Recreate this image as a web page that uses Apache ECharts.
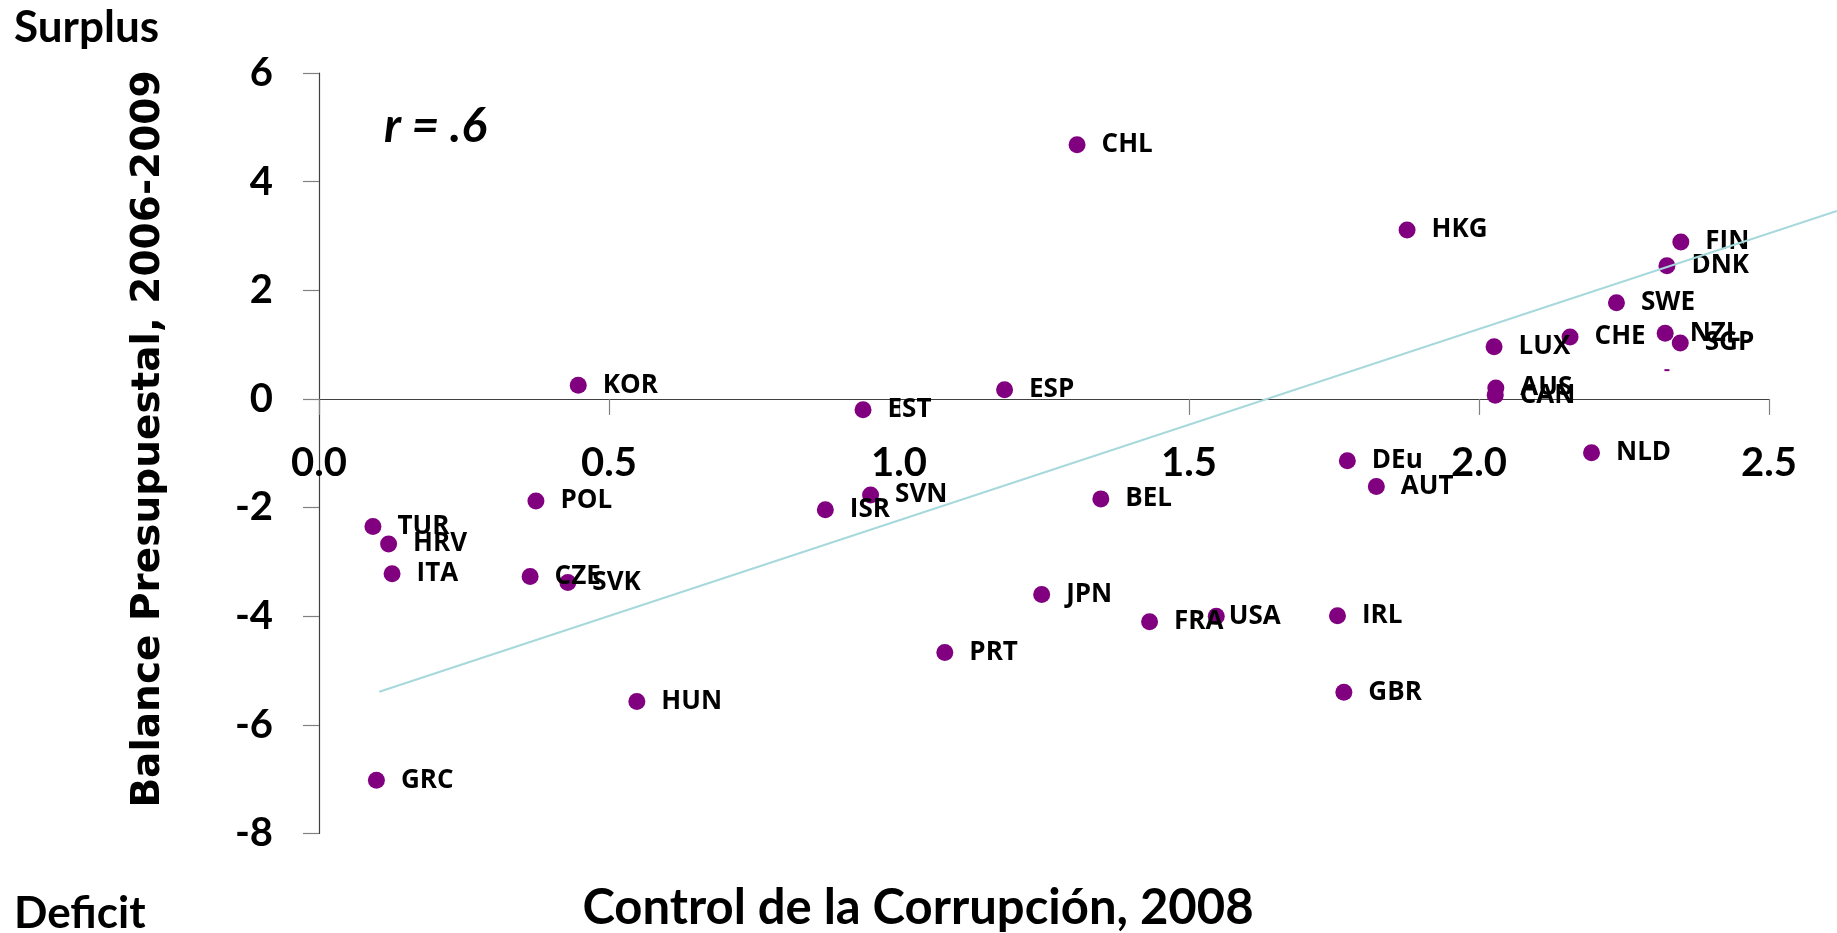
<!DOCTYPE html>
<html>
<head>
<meta charset="utf-8">
<script src="https://cdn.jsdelivr.net/npm/echarts@6/dist/echarts.min.js"></script>
<style>
  html, body { margin: 0; padding: 0; background: #fff; }
  #chart { width: 1837px; height: 933px; }
</style>
</head>
<body>
<div id="chart"></div>
<script>
// datos
const countries = ['CHL','HKG','FIN','DNK','SWE','CHE','NZL','SGP','LUX','AUS','CAN','ESP','EST','KOR',
  'NLD','DEu','AUT','SVN','ISR','BEL','POL','TUR','HRV','ITA','CZE','SVK','JPN','FRA','USA','IRL','PRT','GBR','HUN','GRC'];
const corruption = [1.307,1.876,2.348,2.324,2.237,2.157,2.321,2.347,2.026,2.029,2.028,1.182,0.938,0.447,
  2.194,1.773,1.823,0.951,0.873,1.348,0.374,0.093,0.120,0.126,0.364,0.429,1.246,1.432,1.547,1.756,1.079,1.767,0.548,0.099];
const balance = [4.68,3.11,2.89,2.45,1.77,1.14,1.21,1.03,0.96,0.20,0.07,0.17,-0.20,0.25,
  -0.99,-1.14,-1.61,-1.77,-2.04,-1.84,-1.88,-2.35,-2.67,-3.22,-3.27,-3.38,-3.60,-4.10,-4.00,-3.99,-4.67,-5.40,-5.57,-7.02];
// punto sin etiqueta
const strayX = [2.324];
const strayY = [0.53];
// linea de tendencia (extremos)
const trendX = [0.104, 2.617];
const trendY = [-5.39, 3.46];

const xTicks = { min: 0, max: 2.5, interval: 0.5 };
const yTicks = { min: -8, max: 6, interval: 2 };

const G = { left: 319, right: 68, top: 73, bottom: 99.5 };
const W = 1837, H = 933;
// la linea de tendencia sale del area del grafico: segundo grid con la misma escala
const plotW = W - G.left - G.right;
const plotH = H - G.top - G.bottom;
const wideMax = xTicks.max * (W - G.left) / plotW;
// eje x sobre el cero
const zeroOffset = -plotH * (0 - yTicks.min) / (yTicks.max - yTicks.min);

const tickFont = 'Lato';
const pointFont = 'Open Sans';
const chart = echarts.init(document.getElementById('chart'));

const pts = countries.map((c, i) => {
  const item = { name: c, value: [corruption[i], balance[i]] };
  if (c === 'USA') item.label = { distance: 4 };
  return item;
});

chart.setOption({
  animation: false,
  grid: [
    { left: G.left, right: G.right, top: G.top, bottom: G.bottom },
    { left: G.left, right: 0, top: G.top, bottom: G.bottom }
  ],
  xAxis: [{
    type: 'value', min: xTicks.min, max: xTicks.max, interval: xTicks.interval,
    position: 'bottom', offset: zeroOffset,
    splitLine: { show: false },
    axisLine: { onZero: false, lineStyle: { color: '#404040', width: 1.2 } },
    axisTick: { show: true, inside: false, length: 16, lineStyle: { color: '#808080', width: 1.2 } },
    axisLabel: {
      margin: 44, color: '#000', fontFamily: tickFont, fontWeight: 'bold', fontSize: 40,
      formatter: v => v.toFixed(1)
    }
  }, {
    type: 'value', gridIndex: 1, min: xTicks.min, max: wideMax, show: false
  }],
  yAxis: [{
    type: 'value', min: yTicks.min, max: yTicks.max, interval: yTicks.interval,
    splitLine: { show: false },
    axisLine: { onZero: false, lineStyle: { color: '#404040', width: 1.2 } },
    axisTick: { show: true, length: 16, lineStyle: { color: '#808080', width: 1.2 } },
    axisLabel: { margin: 46, color: '#000', fontFamily: tickFont, fontWeight: 'bold', fontSize: 40 }
  }, {
    type: 'value', gridIndex: 1, min: yTicks.min, max: yTicks.max, show: false
  }],
  graphic: [
    { type: 'text', x: 14, y: 28, style: { text: 'Surplus', font: 'bold 44px Lato', fill: '#000', textVerticalAlign: 'middle' } },
    { type: 'text', x: 14, y: 914, style: { text: 'Deficit', font: 'bold 44px Lato', fill: '#000', textVerticalAlign: 'middle' } },
    { type: 'text', x: 384, y: 127, style: { text: 'r = .6', font: 'italic bold 48px Lato', fill: '#000', textVerticalAlign: 'middle' } },
    { type: 'text', x: 918, y: 908, style: { text: 'Control de la Corrupción, 2008', font: 'bold 49px Lato', fill: '#000', textAlign: 'center', textVerticalAlign: 'middle' } },
    { type: 'text', x: 149, y: 439, rotation: Math.PI / 2,
      style: { text: 'Balance Presupuestal, 2006-2009', font: 'bold 39px "DejaVu Sans"', fill: '#000', textAlign: 'center', textVerticalAlign: 'middle' } }
  ],
  series: [
    {
      type: 'scatter', data: pts, symbolSize: 17,
      itemStyle: { color: '#800080', opacity: 1 },
      label: {
        show: true, position: 'right', distance: 16, formatter: p => p.name,
        color: '#000', fontFamily: pointFont, fontWeight: 'bold', fontSize: 26
      },
      labelLayout: { hideOverlap: false }
    },
    {
      type: 'scatter', data: strayX.map((x, i) => [x, strayY[i]]),
      symbol: 'rect', symbolSize: [5, 2], itemStyle: { color: '#800080', opacity: 1 }
    },
    {
      type: 'line', xAxisIndex: 1, yAxisIndex: 1,
      data: trendX.map((x, i) => [x, trendY[i]]),
      symbol: 'none', lineStyle: { color: '#a6d8dc', width: 2 }, z: 5
    }
  ]
});
</script>
</body>
</html>
